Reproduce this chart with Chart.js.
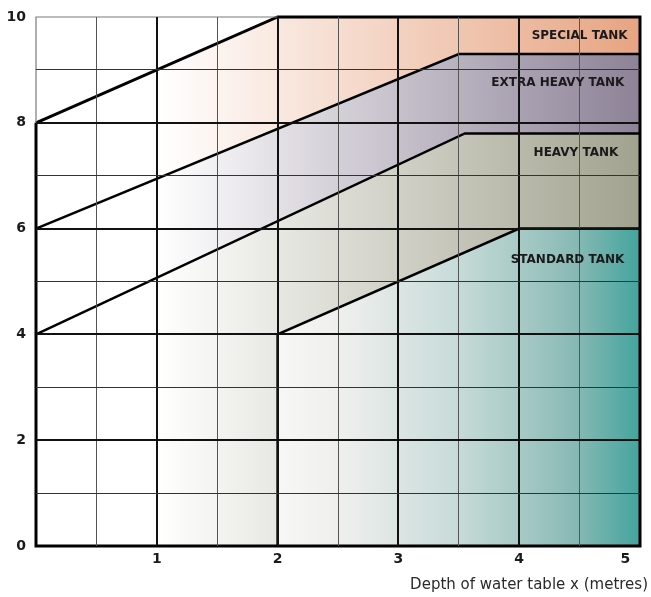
<!DOCTYPE html>
<html>
<head>
<meta charset="utf-8">
<script src="https://cdn.jsdelivr.net/npm/chart.js@4/dist/chart.umd.min.js"></script>
<style>
  html, body { margin: 0; padding: 0; background: #ffffff; }
  #wrap { width: 651px; height: 597px; }
</style>
</head>
<body>
<div id="wrap"><canvas id="chart" width="651" height="597"></canvas></div>
<script>
// Tank class boundaries: depth of water table x (metres) on the horizontal axis.
const specialEdgeX  = [0, 2, 5];
const specialEdgeY  = [8, 10, 10];
const extraEdgeX    = [0, 3.5, 5];
const extraEdgeY    = [6, 9.3, 9.3];
const heavyEdgeX    = [0, 3.55, 5];
const heavyEdgeY    = [4, 7.8, 7.8];
const standardEdgeX = [2, 2, 4, 5];
const standardEdgeY = [0, 4, 6, 6];

const xRange = [0, 5];
const yRange = [0, 10];
const xTickLabels = ['1', '2', '3', '4', '5'];
const yTickLabels = ['0', '2', '4', '6', '8', '10'];

const regionNames  = ['SPECIAL TANK', 'EXTRA HEAVY TANK', 'HEAVY TANK', 'STANDARD TANK'];
const regionLabelX = [4.5, 4.32, 4.47, 4.4];
const regionLabelY = [9.64, 8.75, 7.43, 5.41];

// ---- geometry helpers -------------------------------------------------
const pts = (xs, ys) => xs.map((x, i) => ({ x, y: ys[i] }));
const closed = (list) => list.concat([list[0]]);

const specialLine  = pts(specialEdgeX, specialEdgeY);
const extraLine    = pts(extraEdgeX, extraEdgeY);
const heavyLine    = pts(heavyEdgeX, heavyEdgeY);
const standardLine = pts(standardEdgeX, standardEdgeY);

const specialArea  = closed(specialLine.concat(extraLine.slice().reverse()));
const extraArea    = closed(extraLine.concat(heavyLine.slice().reverse()));
const heavyArea    = closed(heavyLine.concat(standardLine.slice().reverse(), [{ x: xRange[0], y: yRange[0] }]));
const standardArea = closed(standardLine.concat([{ x: xRange[1], y: yRange[0] }]));

const outline = [
  { x: specialEdgeX[0], y: specialEdgeY[0] },
  ...specialLine.slice(1),
  { x: xRange[1], y: yRange[0] },
  { x: xRange[0], y: yRange[0] },
  { x: specialEdgeX[0], y: specialEdgeY[0] }
];
const openCorner = [
  { x: xRange[0], y: specialEdgeY[0] },
  { x: xRange[0], y: yRange[1] },
  { x: specialEdgeX[1], y: yRange[1] }
];

// Horizontal colour ramp in data units, converted to pixels by the x scale.
function ramp(stops) {
  return (context) => {
    const chart = context.chart;
    const { chartArea, scales } = chart;
    if (!chartArea) return 'rgba(0,0,0,0)';
    const x0 = scales.x.getPixelForValue(stops[0][0]);
    const x1 = scales.x.getPixelForValue(stops[stops.length - 1][0]);
    const g = chart.ctx.createLinearGradient(x0, 0, x1, 0);
    const span = stops[stops.length - 1][0] - stops[0][0];
    stops.forEach(([v, c]) => g.addColorStop((v - stops[0][0]) / span, c));
    return g;
  };
}

// Areas sit underneath (higher order is drawn first), edges on top.
const areaStyle = { showLine: true, fill: 'shape', borderWidth: 0, pointRadius: 0, tension: 0, order: 2 };
const edgeStyle = { showLine: true, fill: false, borderColor: '#000000', borderWidth: 2.5,
                    pointRadius: 0, tension: 0, clip: false, borderJoinStyle: 'miter', order: 1 };

const regionLabels = {
  id: 'regionLabels',
  afterDraw(chart) {
    const { ctx, scales: { x, y } } = chart;
    ctx.save();
    ctx.font = 'bold 12px "DejaVu Sans"';
    ctx.fillStyle = '#1a1a1a';
    ctx.textAlign = 'center';
    ctx.textBaseline = 'middle';
    regionNames.forEach((name, i) => {
      ctx.fillText(name, x.getPixelForValue(regionLabelX[i]), y.getPixelForValue(regionLabelY[i]));
    });
    ctx.restore();
  }
};

const isEdge = (v, range) => v === range[0] || v === range[1];

new Chart(document.getElementById('chart'), {
  type: 'scatter',
  data: {
    datasets: [
      { ...areaStyle, label: 'Special', data: specialArea,
        backgroundColor: ramp([[1, '#ffffff'], [5, '#e7a482']]) },
      { ...areaStyle, label: 'Extra heavy', data: extraArea,
        backgroundColor: ramp([[1, '#ffffff'], [5, '#8d8297']]) },
      { ...areaStyle, label: 'Heavy', data: heavyArea,
        backgroundColor: ramp([[1, '#ffffff'], [5, '#a1a28e']]) },
      { ...areaStyle, label: 'Standard', data: standardArea,
        backgroundColor: ramp([[2, '#f7f7f6'], [2.5, '#eff0ee'], [3, '#dce5e3'], [3.5, '#c6dbd8'],
                               [4, '#a8cac6'], [4.5, '#85b8b3'], [5, '#43a49e']]) },
      { ...edgeStyle, label: 'corner', data: openCorner, borderColor: '#7a7a7a', borderWidth: 1.2 },
      { ...edgeStyle, label: 'outline', data: outline, borderWidth: 3 },
      { ...edgeStyle, label: 'extra edge', data: extraLine },
      { ...edgeStyle, label: 'heavy edge', data: heavyLine },
      { ...edgeStyle, label: 'standard edge', data: standardLine }
    ]
  },
  options: {
    responsive: false,
    animation: false,
    events: [],
    layout: { padding: { top: 17, right: 3, left: 0, bottom: 0 } },
    font: { family: '"DejaVu Sans"' },
    plugins: {
      legend: { display: false },
      tooltip: { enabled: false },
      title: {
        display: true,
        text: 'Depth of water table x (metres)',
        position: 'bottom',
        align: 'end',
        color: '#2a2a2a',
        font: { family: '"DejaVu Sans"', size: 15, weight: 'normal' },
        padding: { top: 0, bottom: 3 }
      }
    },
    scales: {
      x: {
        type: 'linear',
        min: xRange[0], max: xRange[1],
        border: { display: false },
        grid: {
          z: 1,
          drawTicks: false,
          color: (c) => isEdge(c.tick.value, xRange) ? 'rgba(0,0,0,0)'
                        : (Number.isInteger(c.tick.value) ? '#111111' : '#555555'),
          lineWidth: (c) => Number.isInteger(c.tick.value) ? 2 : 1
        },
        ticks: {
          stepSize: 0.5,
          autoSkip: false,
          maxRotation: 0,
          padding: 5,
          color: '#1a1a1a',
          font: { family: '"DejaVu Sans"', size: 14, weight: 'bold' },
          callback: (v) => {
            if (!Number.isInteger(v) || v === 0) return '';
            const t = xTickLabels[v - 1];
            // the last label sits inside the frame
            return v === xRange[1] ? t + '\u00a0'.repeat(6) : t;
          }
        },
        afterFit: (s) => { s.height = 30; s.paddingLeft = 0; s.paddingRight = 11; }
      },
      y: {
        type: 'linear',
        min: yRange[0], max: yRange[1],
        border: { display: false },
        grid: {
          z: 1,
          drawTicks: false,
          color: (c) => isEdge(c.tick.value, yRange) ? 'rgba(0,0,0,0)'
                        : (c.tick.value % 2 === 0 ? '#111111' : '#333333'),
          lineWidth: (c) => c.tick.value % 2 === 0 ? 2 : 1
        },
        ticks: {
          stepSize: 1,
          autoSkip: false,
          padding: 10,
          color: '#1a1a1a',
          font: { family: '"DejaVu Sans"', size: 14, weight: 'bold' },
          callback: (v) => v % 2 === 0 ? yTickLabels[v / 2] : ''
        },
        afterFit: (s) => { s.width = 36; s.paddingTop = 0; s.paddingBottom = 0; }
      }
    }
  },
  plugins: [regionLabels]
});
</script>
</body>
</html>
